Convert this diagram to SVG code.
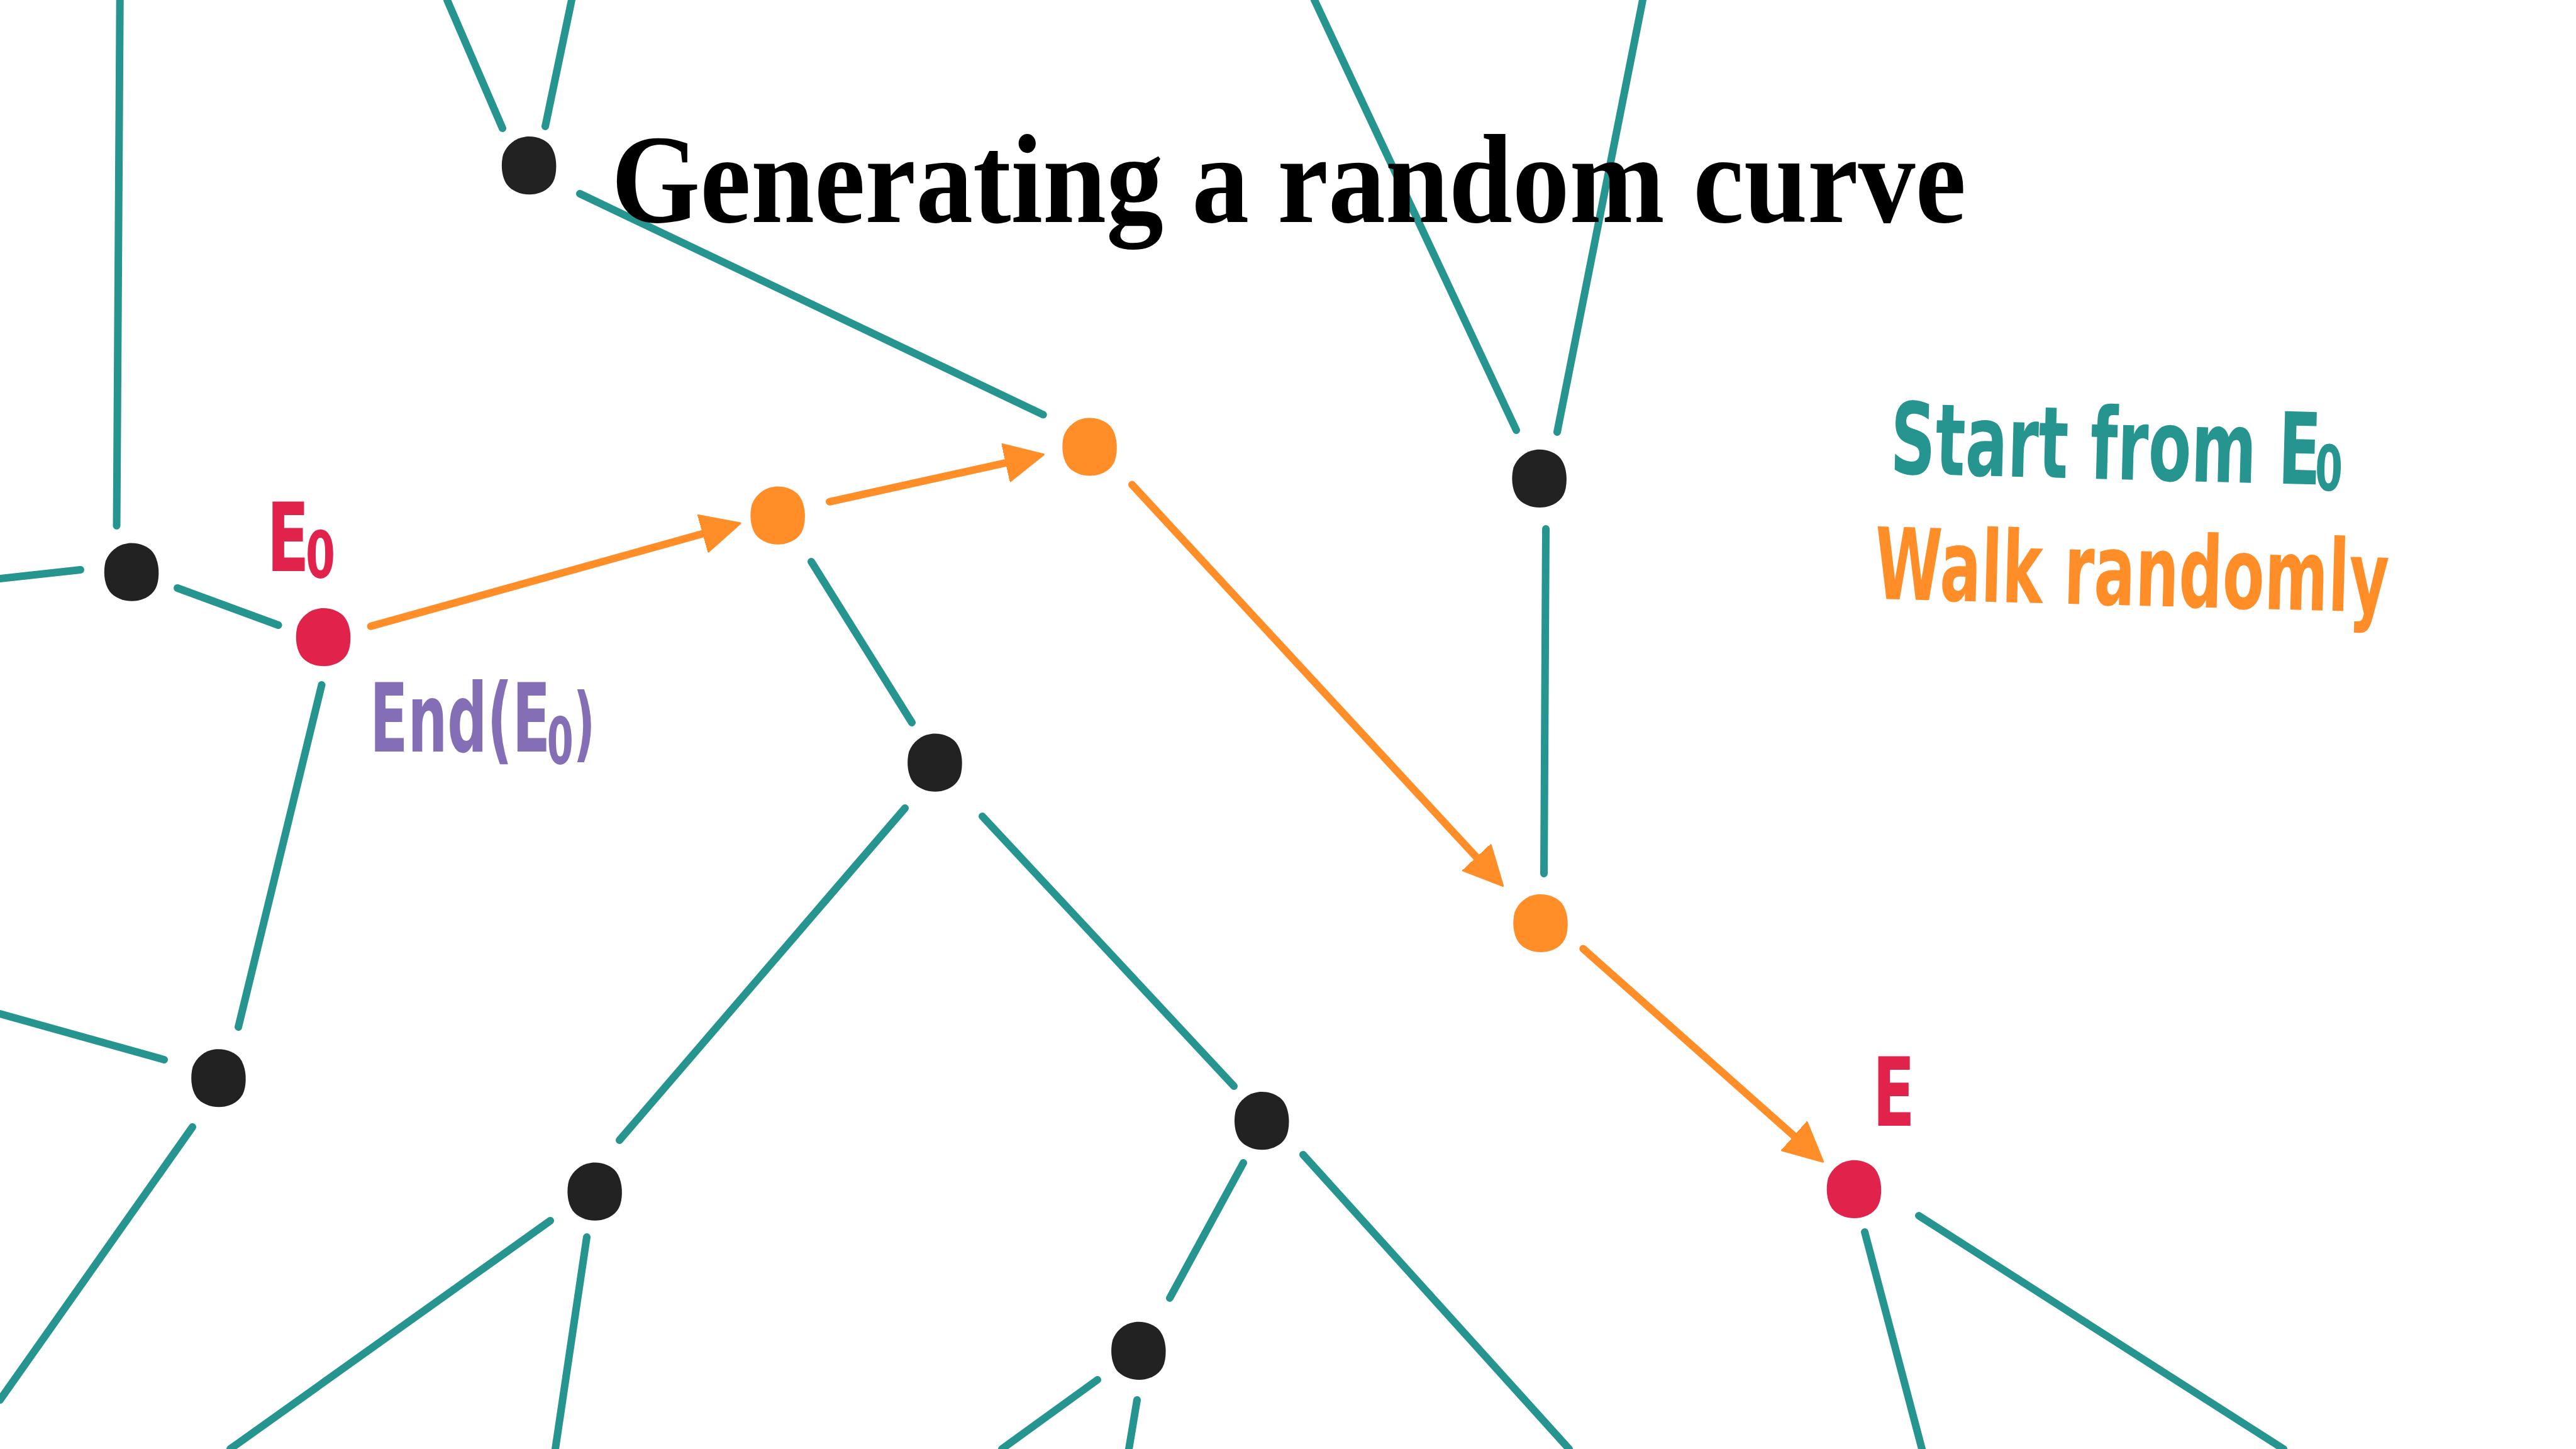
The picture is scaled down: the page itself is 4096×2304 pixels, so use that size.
<svg xmlns="http://www.w3.org/2000/svg" width="4096" height="2304" viewBox="0 0 4096 2304">
<style>
.edge{stroke:#26948F;stroke-width:12;stroke-linecap:round;fill:none}
.walk{stroke:#FF8D28;stroke-width:12;stroke-linecap:round;fill:none;marker-end:url(#ah)}
.hand{font-family:"DejaVu Sans",sans-serif;font-weight:bold}
.title{font-family:"Liberation Serif",serif;font-weight:bold;fill:#000}
.black{fill:#222222}
.orange{fill:#FF8D28}
.red{fill:#E1224A}
</style>
<defs>
<path id="blob" d="M-6,-45 C10,-47 26,-41 34,-31 C43,-19 45,0 42,16 C39,32 28,42 10,46 C-8,49 -26,43 -35,31 C-44,18 -45,-2 -41,-17 C-35,-32 -22,-43 -6,-45 Z"/>
<marker id="ah" markerUnits="userSpaceOnUse" viewBox="0 -34 66 68" refX="10" refY="0" markerWidth="66" markerHeight="68" orient="auto">
<path d="M1,-30 L62,0 L1,30 Z" fill="#FF8D28" stroke="#FF8D28" stroke-width="3" stroke-linejoin="round"/>
</marker>
</defs>
<rect width="4096" height="2304" fill="#ffffff"/>

<g id="connectors">
<line class="edge" x1="190.7" y1="0" x2="185.5" y2="836"/>
<line class="edge" x1="0" y1="920" x2="128" y2="906"/>
<line class="edge" x1="282" y1="935" x2="442.6" y2="994"/>
<line class="edge" x1="711" y1="0" x2="799" y2="204"/>
<line class="edge" x1="909" y1="0" x2="867" y2="201"/>
<line class="edge" x1="922" y1="308" x2="1658.7" y2="659.3"/>
<line class="edge" x1="2090" y1="0" x2="2411" y2="684"/>
<line class="edge" x1="2612" y1="0" x2="2476" y2="687"/>
<line class="edge" x1="2458" y1="841" x2="2455" y2="1389"/>
<line class="edge" x1="511.5" y1="1089" x2="379" y2="1633"/>
<line class="edge" x1="0" y1="1612" x2="261" y2="1685"/>
<line class="edge" x1="306" y1="1792" x2="0" y2="2226"/>
<line class="edge" x1="1290" y1="893" x2="1450" y2="1149"/>
<line class="edge" x1="1439" y1="1285" x2="985" y2="1813"/>
<line class="edge" x1="1562" y1="1298" x2="1962" y2="1727"/>
<line class="edge" x1="875" y1="1941" x2="366" y2="2304"/>
<line class="edge" x1="933" y1="1967" x2="883" y2="2304"/>
<line class="edge" x1="1977" y1="1849" x2="1860" y2="2064"/>
<line class="edge" x1="2072" y1="1836" x2="2495" y2="2304"/>
<line class="edge" x1="1745" y1="2194" x2="1593" y2="2304"/>
<line class="edge" x1="1808" y1="2226" x2="1795" y2="2304"/>
<line class="edge" x1="2965" y1="1959" x2="3056" y2="2304"/>
<line class="edge" x1="3051" y1="1933" x2="3631" y2="2304"/>
<line class="walk" x1="589.6" y1="995.8" x2="1126.9" y2="846"/>
<line class="walk" x1="1319" y1="797.8" x2="1608.8" y2="733.8"/>
<line class="walk" x1="1800" y1="770.6" x2="2354.4" y2="1370.3"/>
<line class="walk" x1="2517.3" y1="1508.6" x2="2859.9" y2="1812.7"/>
</g>

<g id="node-b1"><use href="#blob" class="black" x="841.1" y="262.5"/></g>
<g id="node-b2"><use href="#blob" class="black" x="209" y="909"/></g>
<g id="node-e0"><use href="#blob" class="red" x="514" y="1012.5"/></g>
<g id="node-o1"><use href="#blob" class="orange" x="1236.6" y="819"/></g>
<g id="node-o2"><use href="#blob" class="orange" x="1732.5" y="709.8"/></g>
<g id="node-b3"><use href="#blob" class="black" x="2447.6" y="760.2"/></g>
<g id="node-b4"><use href="#blob" class="black" x="1486.4" y="1212"/></g>
<g id="node-o3"><use href="#blob" class="orange" x="2449.5" y="1467.3"/></g>
<g id="node-b5"><use href="#blob" class="black" x="347.4" y="1713.6"/></g>
<g id="node-b6"><use href="#blob" class="black" x="2006.2" y="1781.5"/></g>
<g id="node-e"><use href="#blob" class="red" x="2947.9" y="1890.2"/></g>
<g id="node-b7"><use href="#blob" class="black" x="945.6" y="1893.9"/></g>
<g id="node-b8"><use href="#blob" class="black" x="1810.3" y="2147.2"/></g>

<g id="title">
<text class="title" x="972" y="353" font-size="202" textLength="2154" lengthAdjust="spacingAndGlyphs">Generating a random curve</text>
</g>

<g id="labels">
<text class="hand" fill="#E1224A" font-size="152" x="-14" y="0" transform="translate(433.4 908) scale(0.65 1)">E<tspan dx="-9" dy="10.5" font-size="104">0</tspan></text>
<text class="hand" fill="#846EB6" font-size="152" x="-14" y="0" transform="translate(596.4 1195) scale(0.58 1)">End(E<tspan dx="-9" dy="19.7" font-size="104">0</tspan><tspan dy="-19.7" font-size="130">)</tspan></text>
<text class="hand" fill="#E1224A" font-size="152" x="-14" y="0" transform="translate(2986.5 1790) scale(0.65 1)">E</text>
</g>

<g id="legend">
<text class="hand" fill="#26948F" font-size="158" x="-11" y="0" transform="translate(3011.6 752.8) rotate(1.5) scale(0.63 1)">Start from E<tspan dx="-14" dy="9" font-size="100">0</tspan></text>
<text class="hand" fill="#FF8D28" font-size="158" x="-2" y="0" transform="translate(2981 952) rotate(1.5) scale(0.615 1)">Walk randomly</text>
</g>
</svg>
